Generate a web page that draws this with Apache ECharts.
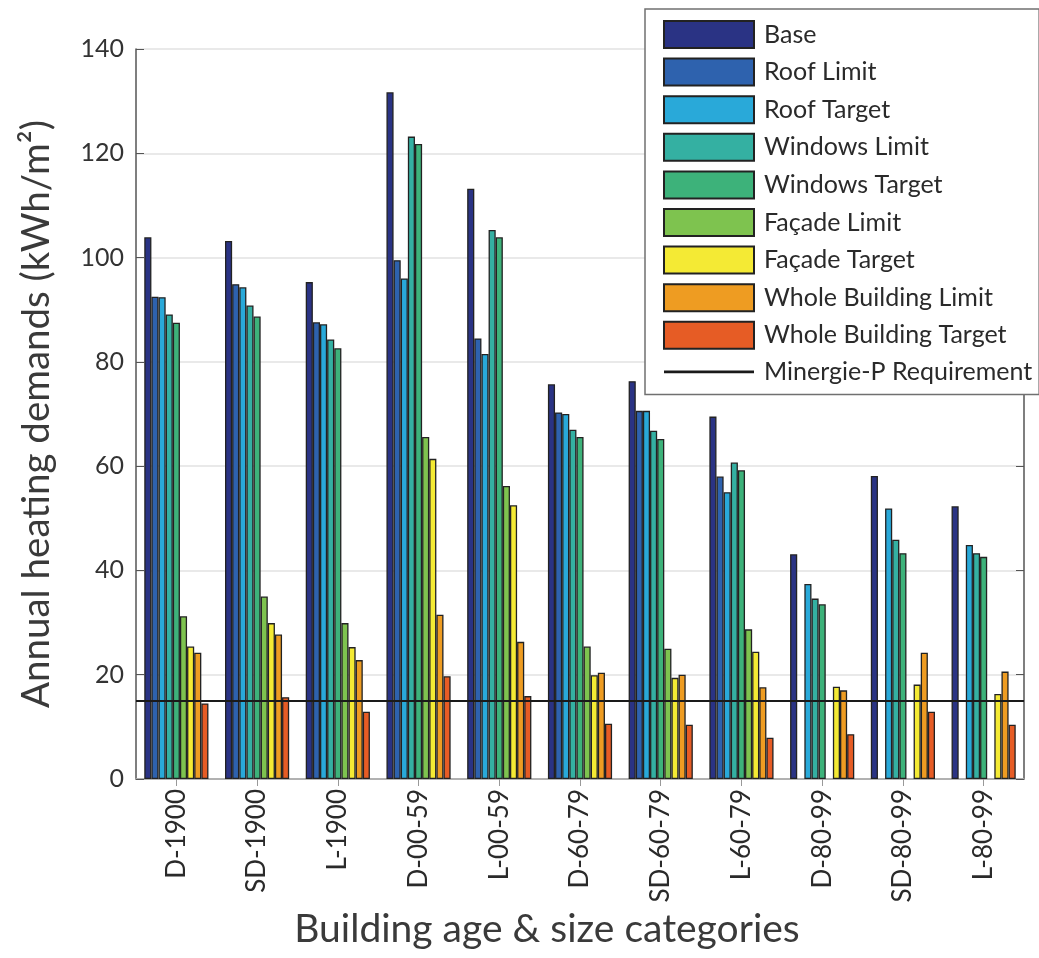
<!DOCTYPE html>
<html>
<head>
<meta charset="utf-8">
<script src="https://cdn.jsdelivr.net/npm/echarts@6/dist/echarts.min.js"></script>
<style>
  html, body { margin: 0; padding: 0; background: #ffffff; }
  #chart { width: 1039px; height: 958px; }
</style>
</head>
<body>
<div id="chart"></div>
<script>
// Building categories (age & size)
const categories = ['D-1900', 'SD-1900', 'L-1900', 'D-00-59', 'L-00-59', 'D-60-79', 'SD-60-79', 'L-60-79', 'D-80-99', 'SD-80-99', 'L-80-99'];

// Annual heating demand per retrofit scenario, kWh/m²
const base          = [103.9, 103.2, 95.3, 131.7, 113.2, 75.7, 76.3, 69.5, 43.1, 58.1, 52.3];
const roofLimit     = [92.5, 94.9, 87.6, 99.5, 84.5, 70.3, 70.6, 58.0, null, null, null];
const roofTarget    = [92.4, 94.3, 87.2, 96.0, 81.5, 70.0, 70.6, 55.0, 37.4, 51.9, 44.9];
const windowsLimit  = [89.1, 90.8, 84.3, 123.2, 105.3, 67.0, 66.8, 60.7, 34.6, 45.9, 43.3];
const windowsTarget = [87.5, 88.7, 82.6, 121.8, 103.9, 65.6, 65.2, 59.2, 33.5, 43.3, 42.6];
const facadeLimit   = [31.2, 35.0, 29.9, 65.6, 56.2, 25.4, 25.0, 28.7, null, null, null];
const facadeTarget  = [25.4, 29.9, 25.3, 61.4, 52.5, 19.9, 19.4, 24.4, 17.7, 18.1, 16.3];
const wholeLimit    = [24.2, 27.7, 22.8, 31.5, 26.3, 20.4, 20.0, 17.6, 17.0, 24.2, 20.6];
const wholeTarget   = [14.5, 15.7, 12.9, 19.7, 15.9, 10.6, 10.4, 7.9, 8.6, 12.9, 10.4];

// Minergie-P requirement, kWh/m²
const minergieP = 15;

const scenarioNames = ['Base', 'Roof Limit', 'Roof Target', 'Windows Limit', 'Windows Target',
  'Façade Limit', 'Façade Target', 'Whole Building Limit', 'Whole Building Target'];
const scenarioData = [base, roofLimit, roofTarget, windowsLimit, windowsTarget,
  facadeLimit, facadeTarget, wholeLimit, wholeTarget];
const scenarioColors = ['#2a3384', '#2e62ae', '#29a9d9', '#34b0a2', '#3db27a',
  '#7ec34f', '#f4ea34', '#ee9c22', '#e65c25'];
const lineName = 'Minergie-P Requirement';

const FONT = 'Lato, "Open Sans", sans-serif';
const AXIS_COLOR = '#555555';
const LINE_COLOR = '#1a1a1a';

const barSeries = scenarioNames.map((name, i) => ({
  name: name,
  type: 'bar',
  data: scenarioData[i],
  barGap: '0%',
  barCategoryGap: '20.5%',
  itemStyle: { color: scenarioColors[i], borderColor: '#222222', borderWidth: 1.3 },
  emphasis: { disabled: true },
  z: 2
}));

const lineSeries = {
  name: lineName,
  type: 'line',
  data: categories.map(() => null),
  symbol: 'none',
  color: LINE_COLOR,
  itemStyle: { color: LINE_COLOR },
  lineStyle: { color: LINE_COLOR, width: 2.5 },
  markLine: {
    silent: true,
    symbol: ['none', 'none'],
    label: { show: false },
    lineStyle: { color: LINE_COLOR, width: 2, type: 'solid' },
    data: [{ yAxis: minergieP }]
  },
  z: 5
};

const chart = echarts.init(document.getElementById('chart'), null, { renderer: 'canvas' });

chart.setOption({
  animation: false,
  backgroundColor: '#ffffff',
  grid: { left: 136, top: 49, width: 888, height: 730, containLabel: false },
  legend: {
    orient: 'vertical',
    left: 645,
    top: 9,
    padding: [11, 7, 9, 18],
    icon: 'rect',
    itemWidth: 90,
    itemHeight: 27,
    itemGap: 8.6,
    backgroundColor: '#ffffff',
    borderColor: '#707070',
    borderWidth: 1.5,
    borderRadius: 0,
    selectedMode: false,
    z: 10,
    textStyle: { fontFamily: FONT, fontSize: 25, lineHeight: 27, color: '#2a2a2a', padding: [0, 0, 0, 5] },
    data: scenarioNames.map(n => ({ name: n })).concat([
      { name: lineName, icon: 'path://M0,0H90V2.6H0Z', itemStyle: { color: LINE_COLOR, borderWidth: 0 } }
    ])
  },
  xAxis: [
    {
      type: 'category',
      data: categories,
      position: 'bottom',
      name: 'Building age & size categories',
      nameLocation: 'middle',
      nameGap: 128,
      nameTextStyle: { fontFamily: FONT, fontSize: 39, color: '#3a3a3a', padding: [0, 66, 0, 0] },
      axisLine: { show: true, lineStyle: { color: AXIS_COLOR, width: 1.5 } },
      axisTick: { show: true, inside: true, alignWithLabel: true, length: 8, lineStyle: { color: AXIS_COLOR } },
      axisLabel: { rotate: 90, margin: 10, fontFamily: FONT, fontSize: 26, color: '#2a2a2a' },
      splitLine: { show: false }
    },
    {
      type: 'category',
      data: categories,
      position: 'top',
      axisLine: { show: true, lineStyle: { color: '#c4c4c4', width: 1.5 } },
      axisTick: { show: true, inside: true, alignWithLabel: true, length: 7, lineStyle: { color: '#999999' } },
      axisLabel: { show: false },
      splitLine: { show: false }
    }
  ],
  yAxis: [
    {
      type: 'value',
      min: 0,
      max: 140,
      interval: 20,
      position: 'left',
      name: 'Annual heating demands (kWh/m²)',
      nameLocation: 'middle',
      nameGap: 80,
      nameTextStyle: { fontFamily: FONT, fontSize: 38.5, color: '#3a3a3a' },
      axisLine: { show: true, lineStyle: { color: AXIS_COLOR, width: 1.5 } },
      axisTick: { show: true, inside: true, length: 8, lineStyle: { color: AXIS_COLOR } },
      axisLabel: { margin: 12, fontFamily: FONT, fontSize: 25, color: '#333333' },
      splitLine: { show: true, lineStyle: { color: '#e2e2e2', width: 1.5 } }
    },
    {
      type: 'value',
      min: 0,
      max: 140,
      interval: 20,
      position: 'right',
      axisLine: { show: true, lineStyle: { color: AXIS_COLOR, width: 1.5 } },
      axisTick: { show: true, inside: true, length: 8, lineStyle: { color: AXIS_COLOR } },
      axisLabel: { show: false },
      splitLine: { show: false }
    }
  ],
  series: barSeries.concat([lineSeries])
});
</script>
</body>
</html>
